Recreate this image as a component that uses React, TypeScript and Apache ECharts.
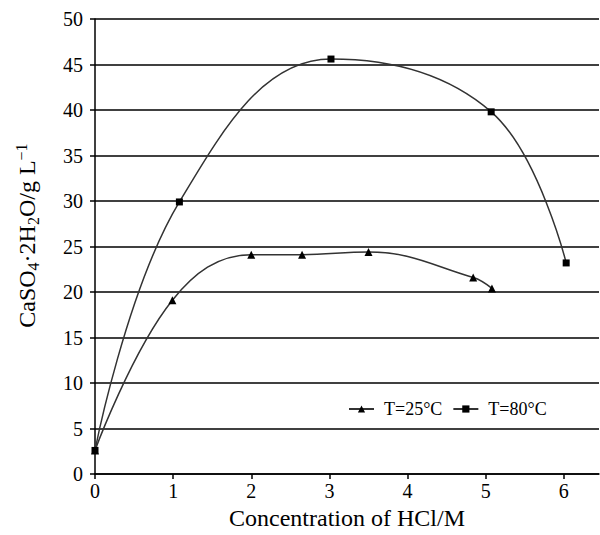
import React, { useEffect, useRef } from "react";
import * as echarts from "echarts";

const t25X = [0, 0.99, 2.0, 2.65, 3.5, 4.84, 5.08];
const t25Y = [2.6, 19.1, 24.1, 24.1, 24.4, 21.6, 20.4];
const t80X = [0, 1.08, 3.02, 5.07, 6.03];
const t80Y = [2.6, 29.9, 45.6, 39.8, 23.2];
const xTicks = [0, 1, 2, 3, 4, 5, 6];
const seriesNames = ["T=25°C", "T=80°C"];

const FONT = "'Liberation Serif', 'Times New Roman', serif";

export default function App() {
  const ref = useRef<HTMLDivElement>(null);
  useEffect(() => {
    if (!ref.current) return;
    const chart = echarts.init(ref.current, null, { renderer: "svg" });
    const pairs = (xs: number[], ys: number[]) => xs.map((x, i) => [x, ys[i]]);
    chart.setOption({
      animation: false,
      backgroundColor: "#fff",
      textStyle: { fontFamily: FONT, color: "#000" },
      grid: { left: 95, right: 1, top: 19, bottom: 58 },
      legend: {
        left: 348,
        top: 400,
        padding: 0,
        itemWidth: 25,
        itemHeight: 9,
        itemGap: 10,
        textStyle: { fontFamily: FONT, fontSize: 18, color: "#000", padding: [0, 0, 0, 5] },
        data: seriesNames,
      },
      xAxis: {
        type: "value",
        min: 0,
        max: 6.45,
        interval: 1,
        name: "Concentration of HCl/M",
        nameLocation: "middle",
        nameGap: 22,
        nameTextStyle: { fontFamily: FONT, fontSize: 24, color: "#000", padding: [0, 0, 0, 0] },
        axisLine: { show: true, lineStyle: { color: "#000", width: 1.5 } },
        axisTick: { show: true, length: 5, lineStyle: { color: "#000", width: 1.5 }, customValues: xTicks },
        axisLabel: { fontFamily: FONT, fontSize: 20, color: "#000", margin: 7, customValues: xTicks },
        splitLine: { show: false },
      },
      yAxis: {
        type: "value",
        min: 0,
        max: 50,
        interval: 5,
        name: "{n|CaSO}{s|4}{n|·2H}{s|2}{n|O/g L}{p|−1}",
        nameLocation: "middle",
        nameGap: 54,
        nameTextStyle: {
          fontFamily: FONT,
          fontSize: 24,
          color: "#000",
          padding: [0, 0, 0, 22],
          rich: {
            n: { fontFamily: FONT, fontSize: 24, color: "#000", lineHeight: 28 },
            s: { fontFamily: FONT, fontSize: 16, color: "#000", verticalAlign: "bottom", lineHeight: 28 },
            p: { fontFamily: FONT, fontSize: 16, color: "#000", verticalAlign: "top", lineHeight: 28 },
          },
        },
        axisLine: { show: true, lineStyle: { color: "#000", width: 1.5 } },
        axisTick: { show: true, length: 5, lineStyle: { color: "#000", width: 1.5 } },
        axisLabel: { fontFamily: FONT, fontSize: 20, color: "#000", margin: 12 },
        splitLine: { show: true, lineStyle: { color: "#000", width: 1.5 } },
      },
      series: [
        {
          name: seriesNames[0],
          type: "line",
          data: pairs(t25X, t25Y),
          smooth: 0.4,
          symbol: "triangle",
          symbolSize: 8,
          itemStyle: { color: "#000" },
          lineStyle: { color: "#333", width: 1.5 },
        },
        {
          name: seriesNames[1],
          type: "line",
          data: pairs(t80X, t80Y),
          smooth: 0.4,
          symbol: "rect",
          symbolSize: 7,
          itemStyle: { color: "#000" },
          lineStyle: { color: "#333", width: 1.5 },
        },
      ],
    });
    return () => chart.dispose();
  }, []);
  return <div ref={ref} style={{ width: 600, height: 535, position: "absolute", left: 0, top: 0 }} />;
}
